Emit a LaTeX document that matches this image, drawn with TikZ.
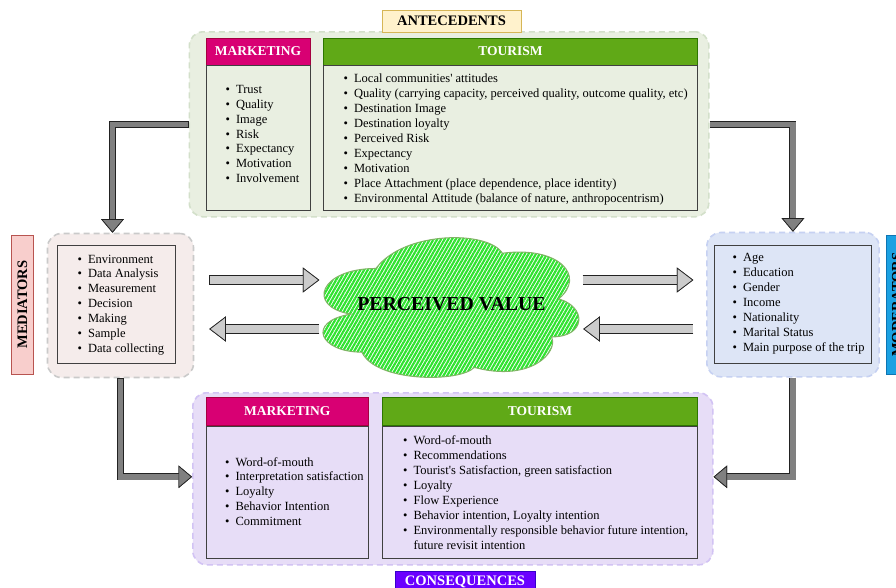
\documentclass[tikz,border=0pt]{standalone}
\usepackage{fontspec}
\setmainfont{Liberation Serif}
\usetikzlibrary{arrows.meta,patterns.meta}

\definecolor{antbg}{HTML}{E9EFE1}
\definecolor{antline}{HTML}{D3E0CA}
\definecolor{conbg}{HTML}{E7DDF7}
\definecolor{conline}{HTML}{D2C3F4}
\definecolor{medbg}{HTML}{F5ECEB}
\definecolor{medline}{HTML}{CACACA}
\definecolor{modbg}{HTML}{DDE5F6}
\definecolor{modline}{HTML}{C6D1F2}
\definecolor{antlab}{HTML}{FFF2CC}
\definecolor{antlabline}{HTML}{D6B656}
\definecolor{conlab}{HTML}{6A00FF}
\definecolor{conlabline}{HTML}{3700CC}
\definecolor{medlab}{HTML}{F8CECC}
\definecolor{medlabline}{HTML}{B85450}
\definecolor{modlab}{HTML}{1BA1E2}
\definecolor{modlabline}{HTML}{0E75B3}
\definecolor{mkthead}{HTML}{D80073}
\definecolor{mktline}{HTML}{A50040}
\definecolor{tourhead}{HTML}{60A917}
\definecolor{tourline}{HTML}{2D7600}
\definecolor{cloudgreen}{HTML}{2EE22E}
\definecolor{cloudline}{HTML}{82B366}
\definecolor{flatgray}{HTML}{CCCCCC}
\definecolor{elbowgray}{HTML}{808080}
\definecolor{arrowline}{HTML}{222222}

\newcommand{\itm}{\textbullet\hspace{6pt}}

\tikzset{
  grpbox/.style={dashed, dash pattern=on 6pt off 4pt, line width=1.6pt, rounded corners=14pt, anchor=north west, inner sep=0pt},
  headbox/.style={draw=#1, line width=0.8pt, anchor=north west, inner sep=0pt, text=white, font=\fontsize{13.5}{15}\selectfont\bfseries},
  bodybox/.style={draw=black!75, line width=0.8pt, anchor=north west, inner sep=0pt},
  listtext/.style={anchor=west, inner sep=0pt, align=left, font=\fontsize{12.5}{14.9}\selectfont},
  titlebox/.style={line width=0.9pt, inner sep=0pt, font=\fontsize{14.5}{16}\selectfont\bfseries},
  cloudfill/.style={draw=cloudline, line width=1pt, pattern={Lines[angle=60,distance=3.2pt,line width=2.2pt]}, pattern color=cloudgreen},
  elbowarrow/.style={draw=elbowgray, line width=5.6pt, shorten <=0.7pt,
    preaction={draw=arrowline, line width=7pt, shorten <=0pt},
    -{Triangle[length=13.5pt, width=22.5pt, fill=elbowgray, color=arrowline, line width=0.7pt]}},
  flatarrow/.style={draw=flatgray, line width=8.6pt, shorten <=0.7pt,
    preaction={draw=arrowline, line width=10pt, shorten <=0pt},
    -{Triangle[length=16.5pt, width=25pt, fill=flatgray, color=arrowline, line width=0.7pt]}}
}

\begin{document}
\begin{tikzpicture}[x=1pt,y=-1pt]
\clip (0,0) rectangle (896,587);
\fill[white] (0,0) rectangle (896,587);

% groups
\node[grpbox, draw=antline, fill=antbg, minimum width=519.5, minimum height=185] (antbox) at (188.5,31) {};
\node[grpbox, draw=conline, fill=conbg, minimum width=520, minimum height=172] (conbox) at (192,392) {};
\node[grpbox, draw=medline, fill=medbg, minimum width=146, minimum height=144] (medbox) at (46.7,232.7) {};
\node[grpbox, draw=modline, fill=modbg, minimum width=172.3, minimum height=144.3] (modbox) at (706,231.7) {};

% group titles
\node[titlebox, draw=antlabline, fill=antlab, minimum width=139, minimum height=22] (antlabel) at (451.5,21) {ANTECEDENTS};
\node[titlebox, draw=conlabline, fill=conlab, text=white, minimum width=140, minimum height=22] (conlabel) at (465,582) {CONSEQUENCES};
\node[titlebox, draw=medlabline, fill=medlab, rotate=90, minimum width=139.3, minimum height=21.6] (medlabel) at (22.5,304.6) {MEDIATORS};
\node[titlebox, draw=modlabline, fill=modlab, rotate=90, minimum width=139.3, minimum height=21.6] (modlabel) at (896.8,304.6) {MODERATORS};

% antecedents
\node[headbox=mktline, fill=mkthead, minimum width=104, minimum height=27] (antmkthead) at (205.7,37.5) {MARKETING};
\node[bodybox, fill=antbg, minimum width=104, minimum height=145] (antmktbody) at (antmkthead.south west) {};
\node[headbox=tourline, fill=tourhead, minimum width=374, minimum height=27] (anttourhead) at (323,37.5) {TOURISM};
\node[bodybox, fill=antbg, minimum width=374, minimum height=145] (anttourbody) at (anttourhead.south west) {};

\node[listtext] (antmktlist) at (225.5,134) {\itm Trust\\ \itm Quality\\ \itm Image\\ \itm Risk\\ \itm Expectancy\\ \itm Motivation\\ \itm Involvement};
\node[listtext] (anttourlist) at (343.5,139.5) {\itm Local communities\textquotesingle\ attitudes\\
  \itm Quality (carrying capacity, perceived quality, outcome quality, etc)\\
  \itm Destination Image\\ \itm Destination loyalty\\ \itm Perceived Risk\\ \itm Expectancy\\ \itm Motivation\\
  \itm Place Attachment (place dependence, place identity)\\
  \itm Environmental Attitude (balance of nature, anthropocentrism)};

% consequences
\node[headbox=mktline, fill=mkthead, minimum width=162.5, minimum height=28] (conmkthead) at (205.5,397) {MARKETING};
\node[bodybox, fill=conbg, minimum width=162.5, minimum height=132.5] (conmktbody) at (conmkthead.south west) {};
\node[headbox=tourline, fill=tourhead, minimum width=315, minimum height=28] (contourhead) at (382,397) {TOURISM};
\node[bodybox, fill=conbg, minimum width=315, minimum height=132.5] (contourbody) at (contourhead.south west) {};

\node[listtext] (conmktlist) at (225,491.5) {\itm Word-of-mouth\\ \itm Interpretation satisfaction\\ \itm Loyalty\\ \itm Behavior Intention\\ \itm Commitment};
\node[listtext] (contourlist) at (403,492.5) {\itm Word-of-mouth\\ \itm Recommendations\\
  \itm Tourist\textquotesingle s Satisfaction, green satisfaction\\ \itm Loyalty\\ \itm Flow Experience\\
  \itm Behavior intention, Loyalty intention\\
  \itm Environmentally responsible behavior future intention,\\
  \hphantom{\itm}future revisit intention};

% mediators and moderators
\node[bodybox, fill=medbg, minimum width=117.4, minimum height=118] (medinner) at (57.3,245.3) {};
\node[listtext] (medlist) at (77.5,305) {\itm Environment\\ \itm Data Analysis\\ \itm Measurement\\ \itm Decision\\ \itm Making\\ \itm Sample\\ \itm Data collecting};
\node[bodybox, fill=modbg, minimum width=156.7, minimum height=118.3] (modinner) at (714,245) {};
\node[listtext] (modlist) at (732.5,303.5) {\itm Age\\ \itm Education\\ \itm Gender\\ \itm Income\\ \itm Nationality\\ \itm Marital Status\\ \itm Main purpose of the trip};

% perceived value
\begin{scope}[shift={(305.7,230.4)}, x=281pt, y=-152.2pt]
\draw[cloudfill] (0.25,0.25) .. controls (0.05,0.25) and (0,0.5) .. (0.16,0.55)
  .. controls (0,0.6) and (0.05,0.8) .. (0.2,0.8)
  .. controls (0.25,1) and (0.55,1) .. (0.6,0.9)
  .. controls (0.8,1) and (0.9,0.8) .. (0.875,0.7)
  .. controls (1,0.7) and (1,0.5) .. (0.9,0.45)
  .. controls (1,0.3) and (0.9,0.1) .. (0.7,0.15)
  .. controls (0.65,0) and (0.35,0) .. (0.25,0.25) -- cycle;
\end{scope}
\node[inner sep=0pt, font=\fontsize{19.8}{22}\selectfont\bfseries] (cloud) at (451.5,304) {PERCEIVED VALUE};

% arrows
\coordinate (medR1) at (209,280);
\coordinate (cloudL1) at (319.3,280);
\coordinate (cloudL2) at (319.3,329);
\coordinate (medR2) at (209.3,329);
\coordinate (cloudR1) at (582.7,280);
\coordinate (modL1) at (693.3,280);
\coordinate (modL2) at (693.3,329);
\coordinate (cloudR2) at (583.3,329);

\draw[flatarrow] (medR1) -- (cloudL1);
\draw[flatarrow] (cloudL2) -- (medR2);
\draw[flatarrow] (cloudR1) -- (modL1);
\draw[flatarrow] (modL2) -- (cloudR2);

\draw[elbowarrow] (antbox.west) -| ([xshift=-8pt]medbox.north);
\draw[elbowarrow] (antbox.east) -| (modbox.north);
\draw[elbowarrow] (medbox.south) |- ([yshift=2pt]conbox.west);
\draw[elbowarrow] (modbox.south) |- ([yshift=2pt]conbox.east);
\end{tikzpicture}
\end{document}
